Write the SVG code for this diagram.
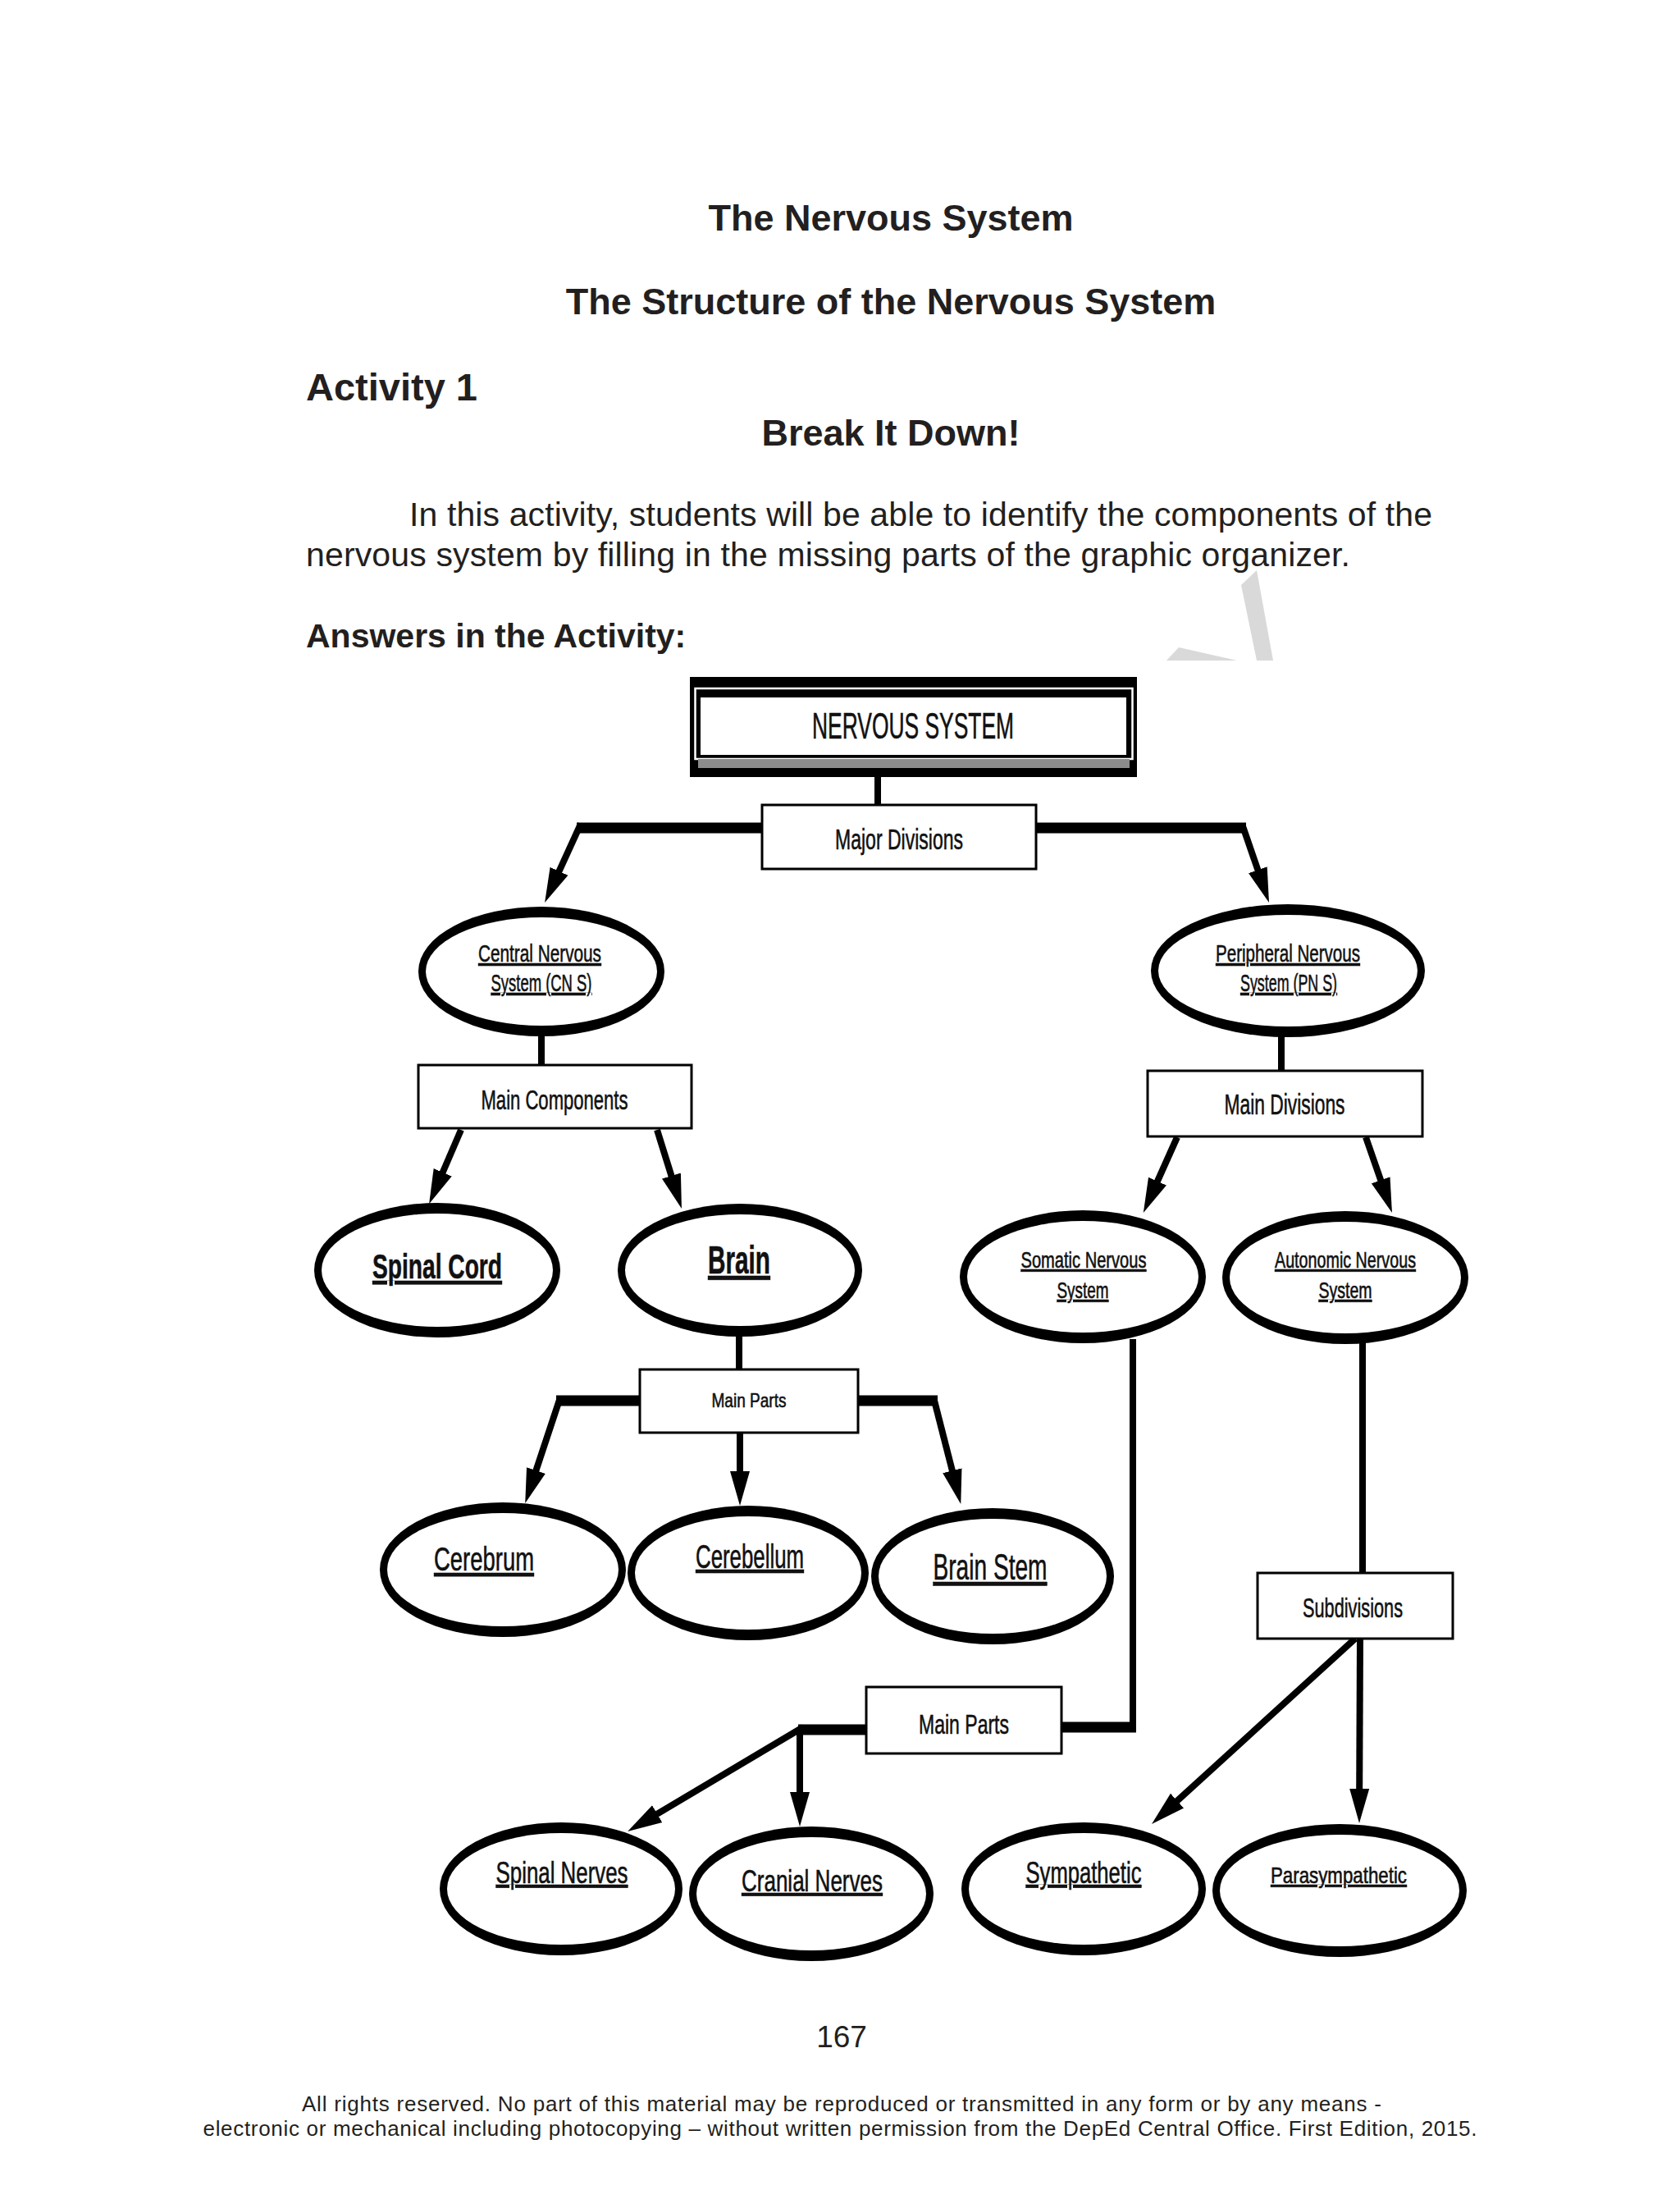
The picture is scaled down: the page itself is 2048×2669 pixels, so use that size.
<svg xmlns="http://www.w3.org/2000/svg" width="2048" height="2669" viewBox="0 0 2048 2669">
<style>
.pg{font-family:"Liberation Sans",Arial,sans-serif;fill:#231f20}
.b{font-weight:bold}
.lbl{font-family:"Liberation Sans Narrow","Liberation Sans",Arial,sans-serif;fill:#111;stroke:#111;stroke-width:0.6;text-anchor:middle}
.u{text-decoration:underline}
.box{fill:#fff;stroke:#000;stroke-width:3}
.eo{fill:#000}
.ei{fill:#fff}
.ln{stroke:#000;stroke-width:8;fill:none}
.bar{stroke:#000;stroke-width:13;fill:none}
.ar{stroke:#000;stroke-width:8;fill:none;marker-end:url(#ah)}
.wm{fill:#d9d9d9}
</style>
<defs>
<marker id="ah" markerUnits="userSpaceOnUse" markerWidth="44" markerHeight="26" refX="22" refY="13" orient="auto" viewBox="0 0 44 26">
<path d="M0,1 L42,13 L0,25 Z" fill="#000"/>
</marker>
</defs>
<rect width="2048" height="2669" fill="#fff"/>

<g id="watermark">
<polygon class="wm" points="1513,713 1532,695 1552,805 1532,805"/>
<polygon class="wm" points="1422,805 1437,789 1508,805"/>
</g>

<g id="page-text">
<text class="pg b" x="1086" y="281" font-size="45" text-anchor="middle">The Nervous System</text>
<text class="pg b" x="1086" y="383" font-size="45" text-anchor="middle">The Structure of the Nervous System</text>
<text class="pg b" x="373" y="488" font-size="47">Activity 1</text>
<text class="pg b" x="1086" y="543" font-size="45" text-anchor="middle">Break It Down!</text>
<text class="pg" x="499" y="641" font-size="41" textLength="1247">In this activity, students will be able to identify the components of the</text>
<text class="pg" x="373" y="690" font-size="41" textLength="1273">nervous system by filling in the missing parts of the graphic organizer.</text>
<text class="pg b" x="373" y="789" font-size="41">Answers in the Activity:</text>
<text class="pg" x="1026" y="2495" font-size="37" text-anchor="middle">167</text>
<text class="pg" x="1026" y="2573" font-size="26" text-anchor="middle" textLength="1316">All rights reserved. No part of this material may be reproduced or transmitted in any form or by any means -</text>
<text class="pg" x="1024" y="2603" font-size="26" text-anchor="middle" textLength="1553">electronic or mechanical including photocopying – without written permission from the DepEd Central Office. First Edition, 2015.</text>
</g>

<g id="connectors">
<line class="ln" x1="1070" y1="947" x2="1070" y2="981"/>
<line class="bar" x1="930" y1="1009" x2="703" y2="1009"/>
<line class="ar" x1="708" y1="1004" x2="672.4" y2="1081.8"/>
<line class="bar" x1="1262" y1="1009" x2="1519" y2="1009"/>
<line class="ar" x1="1514" y1="1004" x2="1540.5" y2="1081"/>
<line class="ln" x1="660" y1="1260" x2="660" y2="1298"/>
<line class="ar" x1="562" y1="1377" x2="531" y2="1449"/>
<line class="ar" x1="801" y1="1377" x2="825" y2="1454"/>
<line class="ln" x1="1562" y1="1262" x2="1562" y2="1305"/>
<line class="ar" x1="1435" y1="1386" x2="1402" y2="1459.7"/>
<line class="ar" x1="1665" y1="1386" x2="1690.4" y2="1459"/>
<line class="ln" x1="901" y1="1625" x2="901" y2="1669"/>
<line class="bar" x1="780" y1="1707" x2="678" y2="1707"/>
<line class="ar" x1="683" y1="1703" x2="646.5" y2="1813"/>
<line class="ar" x1="902" y1="1746" x2="902" y2="1815"/>
<line class="bar" x1="1046" y1="1707" x2="1143" y2="1707"/>
<line class="ar" x1="1138" y1="1703" x2="1166.3" y2="1813.6"/>
<line class="ln" x1="1381" y1="1632" x2="1381" y2="2111"/>
<line class="bar" x1="1385" y1="2105" x2="1294" y2="2105"/>
<line class="bar" x1="1056" y1="2108" x2="973" y2="2108"/>
<line class="ar" x1="979" y1="2105" x2="782.3" y2="2221.9"/>
<line class="ar" x1="975" y1="2108" x2="975" y2="2206"/>
<line class="ln" x1="1661" y1="1634" x2="1661" y2="1917"/>
<line class="ar" x1="1652" y1="1997" x2="1418.8" y2="2209.5"/>
<line class="ar" x1="1658" y1="1997" x2="1657.1" y2="2202"/>
</g>

<g id="node-nervous-system">
<rect x="841" y="825" width="545" height="122" fill="#000"/>
<rect x="847.5" y="839" width="533" height="86" fill="none" stroke="#fff" stroke-width="2.5"/>
<rect x="851" y="925" width="526" height="11" fill="#8c8c8c"/>
<rect x="854" y="850" width="519" height="70" fill="#fff"/>
<text class="lbl" x="1113" y="900" font-size="44" textLength="246" lengthAdjust="spacingAndGlyphs">NERVOUS SYSTEM</text>
</g>

<g id="node-major-divisions">
<rect class="box" x="929" y="981" width="334" height="78"/>
<text class="lbl" x="1096" y="1035" font-size="35" textLength="156" lengthAdjust="spacingAndGlyphs">Major Divisions</text>
</g>

<g id="node-cns">
<ellipse class="eo" cx="660" cy="1184" rx="150" ry="79"/>
<ellipse class="ei" cx="660" cy="1184" rx="141" ry="66"/>
<text class="lbl u" x="658" y="1172" font-size="30" textLength="150" lengthAdjust="spacingAndGlyphs">Central Nervous</text>
<text class="lbl u" x="660" y="1208" font-size="30" textLength="123" lengthAdjust="spacingAndGlyphs">System (CN S)</text>
</g>

<g id="node-pns">
<ellipse class="eo" cx="1570" cy="1183" rx="167" ry="81"/>
<ellipse class="ei" cx="1570" cy="1183" rx="158" ry="68"/>
<text class="lbl u" x="1570" y="1172" font-size="30" textLength="176" lengthAdjust="spacingAndGlyphs">Peripheral Nervous</text>
<text class="lbl u" x="1571" y="1208" font-size="30" textLength="118" lengthAdjust="spacingAndGlyphs">System (PN S)</text>
</g>

<g id="node-main-components">
<rect class="box" x="510" y="1298" width="333" height="77"/>
<text class="lbl" x="676" y="1352" font-size="34" textLength="179" lengthAdjust="spacingAndGlyphs">Main Components</text>
</g>

<g id="node-main-divisions">
<rect class="box" x="1399" y="1305" width="335" height="80"/>
<text class="lbl" x="1566" y="1358" font-size="35" textLength="147" lengthAdjust="spacingAndGlyphs">Main Divisions</text>
</g>

<g id="node-spinal-cord">
<ellipse class="eo" cx="533" cy="1548" rx="150" ry="82"/>
<ellipse class="ei" cx="533" cy="1548" rx="141" ry="69"/>
<text class="lbl u b" x="533" y="1558" font-size="42" textLength="158" lengthAdjust="spacingAndGlyphs">Spinal Cord</text>
</g>

<g id="node-brain">
<ellipse class="eo" cx="902" cy="1548" rx="149" ry="81"/>
<ellipse class="ei" cx="902" cy="1548" rx="140" ry="68"/>
<text class="lbl u b" x="901" y="1552" font-size="48" textLength="76" lengthAdjust="spacingAndGlyphs">Brain</text>
</g>

<g id="node-somatic">
<ellipse class="eo" cx="1320" cy="1556" rx="150" ry="81"/>
<ellipse class="ei" cx="1320" cy="1556" rx="141" ry="68"/>
<text class="lbl u" x="1321" y="1545" font-size="28" textLength="153" lengthAdjust="spacingAndGlyphs">Somatic Nervous</text>
<text class="lbl u" x="1320" y="1582" font-size="28" textLength="63" lengthAdjust="spacingAndGlyphs">System</text>
</g>

<g id="node-autonomic">
<ellipse class="eo" cx="1640" cy="1557" rx="150" ry="81"/>
<ellipse class="ei" cx="1640" cy="1557" rx="141" ry="68"/>
<text class="lbl u" x="1640" y="1545" font-size="28" textLength="172" lengthAdjust="spacingAndGlyphs">Autonomic Nervous</text>
<text class="lbl u" x="1640" y="1582" font-size="28" textLength="65" lengthAdjust="spacingAndGlyphs">System</text>
</g>

<g id="node-main-parts-brain">
<rect class="box" x="780" y="1669" width="266" height="77"/>
<text class="lbl" x="913" y="1715" font-size="24" textLength="91" lengthAdjust="spacingAndGlyphs">Main Parts</text>
</g>

<g id="node-cerebrum">
<ellipse class="eo" cx="613" cy="1913" rx="150" ry="82"/>
<ellipse class="ei" cx="613" cy="1913" rx="141" ry="69"/>
<text class="lbl u" x="590" y="1914" font-size="41" textLength="122" lengthAdjust="spacingAndGlyphs">Cerebrum</text>
</g>

<g id="node-cerebellum">
<ellipse class="eo" cx="912" cy="1917" rx="147" ry="82"/>
<ellipse class="ei" cx="912" cy="1917" rx="138" ry="69"/>
<text class="lbl u" x="914" y="1911" font-size="40" textLength="132" lengthAdjust="spacingAndGlyphs">Cerebellum</text>
</g>

<g id="node-brain-stem">
<ellipse class="eo" cx="1210" cy="1921" rx="148" ry="83"/>
<ellipse class="ei" cx="1210" cy="1921" rx="139" ry="70"/>
<text class="lbl u" x="1207" y="1925" font-size="44" textLength="139" lengthAdjust="spacingAndGlyphs">Brain  Stem</text>
</g>

<g id="node-subdivisions">
<rect class="box" x="1533" y="1917" width="238" height="80"/>
<text class="lbl" x="1649" y="1971" font-size="34" textLength="122" lengthAdjust="spacingAndGlyphs">Subdivisions</text>
</g>

<g id="node-main-parts-somatic">
<rect class="box" x="1056" y="2056" width="238" height="81"/>
<text class="lbl" x="1175" y="2113" font-size="34" textLength="110" lengthAdjust="spacingAndGlyphs">Main Parts</text>
</g>

<g id="node-spinal-nerves">
<ellipse class="eo" cx="684" cy="2302" rx="148" ry="81"/>
<ellipse class="ei" cx="684" cy="2302" rx="139" ry="68"/>
<text class="lbl u" x="685" y="2295" font-size="37" textLength="161" lengthAdjust="spacingAndGlyphs">Spinal Nerves</text>
</g>

<g id="node-cranial-nerves">
<ellipse class="eo" cx="989" cy="2308" rx="149" ry="82"/>
<ellipse class="ei" cx="989" cy="2308" rx="140" ry="69"/>
<text class="lbl u" x="990" y="2305" font-size="37" textLength="172" lengthAdjust="spacingAndGlyphs">Cranial Nerves</text>
</g>

<g id="node-sympathetic">
<ellipse class="eo" cx="1321" cy="2302" rx="149" ry="81"/>
<ellipse class="ei" cx="1321" cy="2302" rx="140" ry="68"/>
<text class="lbl u" x="1321" y="2295" font-size="37" textLength="141" lengthAdjust="spacingAndGlyphs">Sympathetic</text>
</g>

<g id="node-parasympathetic">
<ellipse class="eo" cx="1633" cy="2304" rx="155" ry="81"/>
<ellipse class="ei" cx="1633" cy="2304" rx="146" ry="68"/>
<text class="lbl u" x="1632" y="2295" font-size="28" textLength="166" lengthAdjust="spacingAndGlyphs">Parasympathetic</text>
</g>
</svg>
